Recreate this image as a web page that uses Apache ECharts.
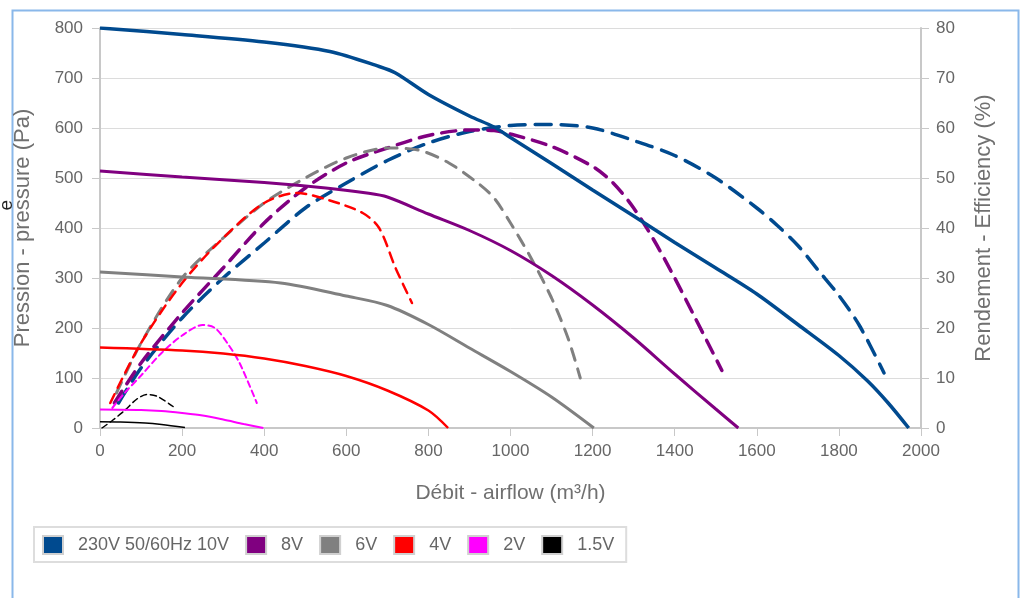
<!DOCTYPE html>
<html>
<head>
<meta charset="utf-8">
<script src="https://cdn.jsdelivr.net/npm/echarts@6/dist/echarts.min.js"></script>
<style>
html,body{margin:0;padding:0;background:#fff;}
#c{width:1021px;height:598px;}
</style>
</head>
<body>
<div id="c"></div>
<script>
// ---- Data (airflow m3/h, pressure Pa) ----
var seriesNames = ['230V 50/60Hz 10V', '8V', '6V', '4V', '2V', '1.5V'];
var seriesColors = ['#004a8f', '#800080', '#808080', '#ff0000', '#ff00ff', '#000000'];

var press10V = [[0,800],[200,787],[400,772],[560,753],[680,723],[720,710],[800,667],[900,624],[960,602],[1000,581],[1100,529],[1200,476],[1300,424],[1400,371],[1500,320],[1600,268],[1700,207],[1800,145],[1870,94],[1920,50],[1970,0]];
var press8V  = [[0,514],[200,502],[400,491],[550,480],[650,470],[700,462],[800,428],[900,395],[1000,355],[1100,305],[1200,246],[1300,180],[1400,108],[1500,38],[1555,0]];
var press6V  = [[0,312],[200,302],[440,290],[600,264],[700,245],[800,207],[900,160],[1000,113],[1100,62],[1203,0]];
var press4V  = [[0,161],[200,155],[300,149],[400,139],[500,124],[600,104],[700,75],[800,35],[848,0]];
var press2V  = [[0,37],[100,36],[150,34],[200,30],[250,25],[300,17],[350,8],[398,0]];
var press15V = [[0,12.5],[50,12],[110,10],[150,7],[207,1]];

// ---- Efficiency (%) ----
var eff10V = [[45,5],[100,12],[200,22],[300,30],[400,37],[500,44],[600,49],[700,53.5],[800,57],[900,59.3],[1000,60.5],[1100,60.7],[1200,60],[1300,57.5],[1400,54.5],[1500,50],[1600,44],[1650,40.5],[1700,36.5],[1750,31.5],[1800,26.5],[1850,20.5],[1910,11]];
var eff8V  = [[35,5],[100,13],[200,23],[300,32],[400,41],[500,48],[600,53],[700,56],[800,58.5],[900,59.6],[960,59.5],[1000,58.8],[1100,56.3],[1200,52.3],[1250,49],[1300,44],[1350,37.5],[1400,30],[1450,22],[1515,11.5]];
var eff6V  = [[40,7],[100,17],[200,30],[300,38],[400,45],[500,50],[600,54],[700,56],[780,55.5],[850,53],[920,49],[960,46],[1000,41],[1050,34],[1100,26],[1140,18],[1170,10]];
var eff4V  = [[25,5],[100,17],[200,29],[300,38],[400,45],[480,47],[560,45.5],[640,43],[680,40],[720,32],[760,25]];
var eff2V  = [[30,4],[60,7],[100,10.5],[150,15],[200,18.5],[250,20.6],[280,20],[310,17],[340,13],[382,5]];
var eff15V = [[5,0],[30,1.5],[60,3.5],[90,5.8],[115,6.7],[140,6.3],[178,4.3]];

var xTicks = {min:0, max:2000, interval:200};
var yTicks = {min:0, max:800, interval:100};
var y2Ticks = {min:0, max:80, interval:10};

var pressData = [press10V, press8V, press6V, press4V, press2V, press15V];
var effData = [eff10V, eff8V, eff6V, eff4V, eff2V, eff15V];
var pressWidth = [3.5, 3, 3, 2.5, 2, 1.5];
var effWidth = [3.5, 3.5, 3, 2.5, 2, 1.5];
var effDash = [[16,10],[14,9],[12,9],[10,7],[6,4],[6,4]];

var series = [];
for (var i = 0; i < 6; i++) {
  series.push({
    name: seriesNames[i], type: 'line', yAxisIndex: 0, data: pressData[i],
    smooth: 0.3, showSymbol: false, symbol: 'none',
    lineStyle: {color: seriesColors[i], width: pressWidth[i]},
    itemStyle: {color: seriesColors[i]}, z: 3
  });
}
for (var j = 0; j < 6; j++) {
  series.push({
    name: seriesNames[j], type: 'line', yAxisIndex: 1, data: effData[j],
    smooth: 0.3, showSymbol: false, symbol: 'none',
    lineStyle: {color: seriesColors[j], width: effWidth[j], type: effDash[j], cap: 'round'},
    itemStyle: {color: seriesColors[j]}, z: 2
  });
}

var font = 'Liberation Sans, Arial, sans-serif';
function plain(v) { return String(v); }
var chart = echarts.init(document.getElementById('c'), null, {renderer: 'canvas'});
chart.setOption({
  animation: false,
  backgroundColor: '#fff',
  textStyle: {fontFamily: font},
  grid: {left: 100, right: 100, top: 28, bottom: 170},
  xAxis: {
    type: 'value', min: xTicks.min, max: xTicks.max, interval: xTicks.interval,
    name: 'Débit - airflow (m³/h)', nameLocation: 'middle', nameGap: 55,
    nameTextStyle: {fontSize: 21, color: '#707070', fontFamily: font},
    axisLine: {show: true, lineStyle: {color: '#c8c8c8', width: 2}},
    axisTick: {show: true, length: 8, lineStyle: {color: '#c8c8c8'}},
    axisLabel: {fontSize: 17, color: '#666', margin: 15, formatter: plain},
    splitLine: {show: false}
  },
  yAxis: [{
    type: 'value', min: yTicks.min, max: yTicks.max, interval: yTicks.interval,
    name: 'Pression - pressure (Pa)', nameLocation: 'middle', nameGap: 66,
    nameTextStyle: {fontSize: 22, color: '#707070', fontFamily: font},
    axisLine: {show: true, lineStyle: {color: '#c8c8c8', width: 2}},
    axisTick: {show: true, length: 8, lineStyle: {color: '#c8c8c8'}},
    axisLabel: {fontSize: 17, color: '#666', margin: 17, formatter: plain},
    splitLine: {show: true, lineStyle: {color: '#dcdcdc', width: 1}}
  }, {
    type: 'value', min: y2Ticks.min, max: y2Ticks.max, interval: y2Ticks.interval,
    position: 'right',
    name: 'Rendement - Efficiency (%)', nameLocation: 'middle', nameGap: 52,
    nameTextStyle: {fontSize: 22, color: '#707070', fontFamily: font},
    axisLine: {show: true, lineStyle: {color: '#c8c8c8', width: 2}},
    axisTick: {show: true, length: 8, lineStyle: {color: '#c8c8c8'}},
    axisLabel: {fontSize: 17, color: '#666', margin: 15, formatter: plain},
    splitLine: {show: false}
  }],
  legend: {
    left: 34, top: 527, orient: 'horizontal',
    data: seriesNames.map(function (n, k) {
      return {name: n, icon: 'rect', itemStyle: {color: seriesColors[k], borderColor: '#d0d0d0', borderWidth: 2}};
    }),
    itemWidth: 20, itemHeight: 18, itemGap: 16,
    borderColor: '#dddddd', borderWidth: 2, padding: [8, 12, 7, 8],
    textStyle: {fontSize: 18, color: '#666', fontFamily: font, padding: [0, 0, 10, 10]},
    selectedMode: false
  },
  graphic: [{
    type: 'rect', left: 10, top: 8, z: -1, silent: true,
    shape: {width: 1006, height: 600},
    style: {fill: 'none', stroke: '#8ab8ea', lineWidth: 2}
  }, {
    type: 'text', left: -3, top: 200, rotation: Math.PI / 2, silent: true,
    style: {text: 'e', fontSize: 19, fill: '#222', fontFamily: font}
  }],
  series: series
});
</script>
</body>
</html>
